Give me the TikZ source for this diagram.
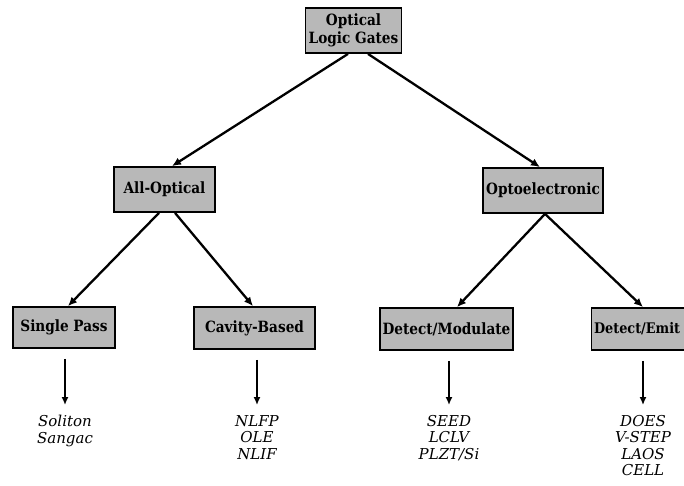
\documentclass[tikz,border=0pt]{standalone}
\usepackage{fontspec}
\setmainfont{DejaVu Serif}[BoldFeatures={FakeStretch=0.88}]
\usetikzlibrary{arrows.meta,backgrounds}
\begin{document}
\begin{tikzpicture}[x=1pt,y=-1pt,
 box/.style={draw, line width=1.8pt, fill=black!28, font=\bfseries\fontsize{15.5}{18}\selectfont, inner sep=0pt, align=center},
 arr/.style={line width=2.3pt, -{Latex[length=9pt,width=8pt]}},
 varr/.style={line width=1.5pt, -{Latex[length=8pt,width=7pt]}},
 lst/.style={font=\itshape\fontsize{15}{16.5}\selectfont, inner sep=0pt, align=center, anchor=north}]
\useasboundingbox (0,0) rectangle (684,485);
\clip (0,0) rectangle (684,485);
\node[box, minimum width=96pt, minimum height=45pt] (top) at (353.5,30.5) {Optical\\Logic Gates};
\node[box, minimum width=101pt, minimum height=45pt] (allopt) at (164.5,189.5) {All-Optical};
\node[box, minimum width=120pt, minimum height=45pt] (opto) at (543,190.5) {Optoelectronic};
\node[box, minimum width=102pt, minimum height=41pt] (single) at (64,327.5) {Single Pass};
\node[box, minimum width=121pt, minimum height=42pt] (cavity) at (254.5,328) {Cavity-Based};
\node[box, minimum width=133pt, minimum height=42pt] (detmod) at (446.5,329) {Detect/Modulate};
\node[box, font=\bfseries\fontsize{14.6}{18}\selectfont, text width=106pt, align=left, inner xsep=2.5pt, minimum height=42pt] (detemit) at (647,329) {Detect/Emit};
\node[lst] (l1) at (65,415) {Soliton\\Sangac};
\node[lst] (l2) at (257,415) {NLFP\\OLE\\NLIF};
\node[lst] (l3) at (449,415) {SEED\\LCLV\\PLZT/Si};
\node[lst] (l4) at (643,415) {DOES\\V-STEP\\LAOS\\CELL};
\begin{scope}[on background layer]
\draw[arr] ([xshift=-5.5pt]top.south) -- ([xshift=7.5pt]allopt.north);
\draw[arr] ([xshift=14.5pt]top.south) -- ([xshift=-3pt]opto.north);
\draw[arr] ([xshift=-5.5pt]allopt.south) -- ([xshift=4pt]single.north);
\draw[arr] ([xshift=10.5pt]allopt.south) -- ([xshift=-1.5pt]cavity.north);
\draw[arr] ([xshift=2pt]opto.south) -- ([xshift=10.5pt]detmod.north);
\draw[arr] ([xshift=2pt]opto.south) -- ([xshift=-4pt]detemit.north);
\end{scope}
\draw[varr] ([yshift=-10pt]single.south -| l1.north) -- ([yshift=10pt]l1.north);
\draw[varr] ([yshift=-10pt]cavity.south -| l2.north) -- ([yshift=10pt]l2.north);
\draw[varr] ([yshift=-10pt]detmod.south -| l3.north) -- ([yshift=10pt]l3.north);
\draw[varr] ([yshift=-10pt]detemit.south -| l4.north) -- ([yshift=10pt]l4.north);
\end{tikzpicture}
\end{document}
